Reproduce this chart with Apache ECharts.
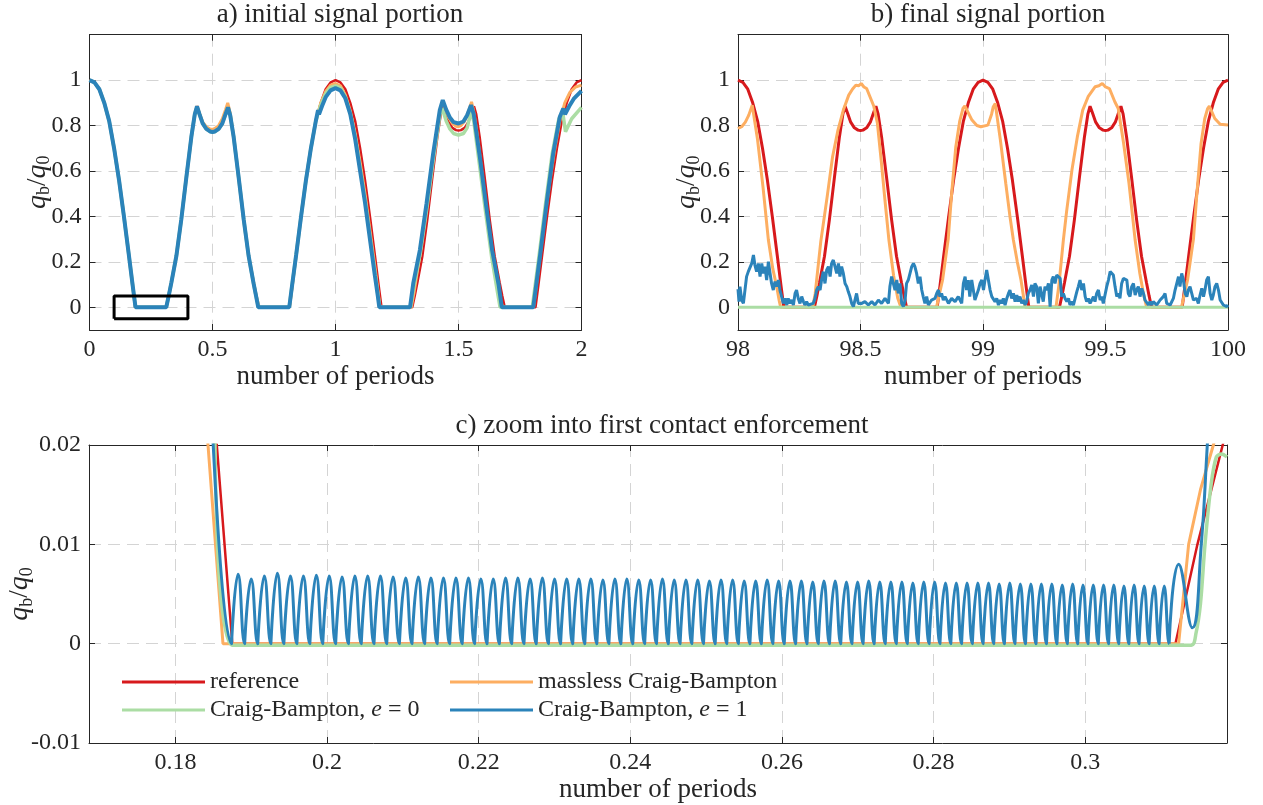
<!DOCTYPE html>
<html>
<head>
<meta charset="utf-8">
<script src="https://cdn.jsdelivr.net/npm/echarts@6.0.0/dist/echarts.min.js"></script>
<style>
html,body{margin:0;padding:0;background:#fff}
#main{width:1263px;height:805px}
</style>
</head>
<body>
<div id="main"></div>
<script>
// reference signal, one period (it repeats exactly)
var refX = [0,0.02,0.04,0.06,0.08,0.1,0.12,0.14,0.16,0.175,0.187,0.312,0.322,0.333,0.353,0.373,0.394,0.414,0.428,0.437,
  0.447,0.46,0.475,0.49,0.5,0.51,0.525,0.54,0.553,0.563,0.572,0.586,0.606,0.627,0.647,0.667,0.678,0.688,
  0.813,0.825,0.84,0.86,0.88,0.9,0.92,0.94,0.96,0.98];
var refY = [1,0.99,0.96,0.9,0.82,0.7,0.56,0.4,0.23,0.1,0,0,0.05,0.11,0.225,0.385,0.575,0.75,0.85,0.885,
  0.855,0.815,0.79,0.78,0.778,0.78,0.79,0.815,0.855,0.885,0.85,0.75,0.575,0.385,0.225,0.11,0.05,0,
  0,0.1,0.23,0.4,0.56,0.7,0.82,0.9,0.96,0.99];

// a) initial portion
var orangeA = [[0,1],[0.02,0.99],[0.04,0.96],[0.06,0.9],[0.08,0.82],[0.1,0.7],[0.12,0.56],[0.14,0.4],[0.16,0.23],[0.175,0.1],[0.186,0],[0.312,0],[0.322,0.05],[0.333,0.11],[0.353,0.225],[0.373,0.385],[0.394,0.575],[0.414,0.75],[0.428,0.85],[0.437,0.885],[0.447,0.855],[0.46,0.815],[0.475,0.795],[0.49,0.785],[0.5,0.783],[0.51,0.787],[0.525,0.8],[0.54,0.83],[0.553,0.87],[0.562,0.9],[0.572,0.855],[0.586,0.75],[0.606,0.575],[0.627,0.385],[0.647,0.225],[0.667,0.11],[0.678,0.05],[0.69,0],[0.813,0],[0.825,0.1],[0.84,0.23],[0.86,0.4],[0.88,0.56],[0.9,0.7],[0.92,0.82],[0.94,0.9],[0.96,0.95],[0.98,0.978],[1,0.985],[1.02,0.975],[1.04,0.935],[1.06,0.865],[1.08,0.765],[1.1,0.64],[1.12,0.5],[1.14,0.34],[1.16,0.18],[1.174,0.06],[1.181,0],[1.308,0],[1.32,0.07],[1.343,0.23],[1.37,0.44],[1.397,0.665],[1.424,0.86],[1.435,0.905],[1.447,0.87],[1.46,0.835],[1.475,0.81],[1.49,0.797],[1.5,0.795],[1.51,0.8],[1.525,0.82],[1.54,0.86],[1.553,0.904],[1.562,0.86],[1.575,0.77],[1.59,0.64],[1.61,0.46],[1.63,0.29],[1.65,0.14],[1.668,0.04],[1.68,0],[1.805,0],[1.817,0.1],[1.832,0.23],[1.852,0.4],[1.872,0.56],[1.892,0.7],[1.912,0.82],[1.932,0.9],[1.952,0.945],[1.976,0.97],[2,0.978]];
var greenA = [[0,1],[0.02,0.99],[0.04,0.96],[0.06,0.9],[0.08,0.82],[0.1,0.7],[0.12,0.56],[0.14,0.4],[0.16,0.23],[0.175,0.1],[0.187,0],[0.312,0],[0.322,0.05],[0.333,0.11],[0.353,0.225],[0.373,0.385],[0.394,0.575],[0.414,0.75],[0.428,0.85],[0.437,0.882],[0.447,0.85],[0.46,0.81],[0.475,0.785],[0.49,0.774],[0.5,0.772],[0.51,0.774],[0.525,0.785],[0.54,0.81],[0.553,0.85],[0.563,0.88],[0.572,0.845],[0.586,0.75],[0.606,0.575],[0.627,0.385],[0.647,0.225],[0.667,0.105],[0.678,0.045],[0.687,0],[0.812,0],[0.824,0.1],[0.84,0.23],[0.86,0.4],[0.88,0.56],[0.9,0.7],[0.92,0.82],[0.94,0.89],[0.96,0.94],[0.98,0.968],[1,0.975],[1.02,0.965],[1.04,0.925],[1.06,0.855],[1.08,0.75],[1.1,0.615],[1.12,0.475],[1.14,0.315],[1.16,0.155],[1.173,0.05],[1.18,0],[1.305,0],[1.318,0.09],[1.345,0.24],[1.372,0.44],[1.399,0.66],[1.425,0.85],[1.434,0.875],[1.45,0.82],[1.465,0.785],[1.48,0.765],[1.5,0.758],[1.52,0.765],[1.535,0.79],[1.551,0.86],[1.562,0.82],[1.585,0.63],[1.61,0.42],[1.635,0.22],[1.658,0.07],[1.669,0],[1.8,0],[1.827,0.223],[1.854,0.457],[1.881,0.677],[1.908,0.83],[1.924,0.855],[1.935,0.773],[1.96,0.83],[2,0.88]];
var blueA = [[0,1],[0.02,0.99],[0.04,0.96],[0.06,0.9],[0.08,0.82],[0.1,0.7],[0.12,0.56],[0.14,0.4],[0.16,0.23],[0.175,0.1],[0.187,0],[0.312,0],[0.322,0.05],[0.333,0.11],[0.353,0.225],[0.373,0.385],[0.394,0.575],[0.414,0.75],[0.428,0.85],[0.437,0.885],[0.447,0.85],[0.46,0.81],[0.475,0.785],[0.49,0.774],[0.5,0.772],[0.51,0.774],[0.525,0.785],[0.54,0.81],[0.553,0.85],[0.563,0.88],[0.572,0.845],[0.586,0.75],[0.606,0.575],[0.627,0.385],[0.647,0.225],[0.667,0.105],[0.678,0.045],[0.686,0],[0.812,0],[0.824,0.1],[0.84,0.23],[0.86,0.4],[0.88,0.56],[0.9,0.7],[0.92,0.82],[0.929,0.868],[0.933,0.85],[0.945,0.885],[0.96,0.925],[0.98,0.955],[1,0.965],[1.02,0.955],[1.04,0.92],[1.06,0.85],[1.08,0.74],[1.1,0.6],[1.12,0.46],[1.14,0.3],[1.16,0.14],[1.172,0.05],[1.178,0],[1.303,0],[1.316,0.105],[1.343,0.252],[1.37,0.457],[1.397,0.677],[1.424,0.868],[1.436,0.912],[1.45,0.87],[1.465,0.835],[1.48,0.815],[1.5,0.809],[1.52,0.818],[1.535,0.845],[1.551,0.89],[1.562,0.85],[1.587,0.66],[1.612,0.45],[1.637,0.25],[1.663,0.1],[1.676,0],[1.804,0],[1.831,0.223],[1.858,0.457],[1.885,0.677],[1.912,0.839],[1.926,0.875],[1.933,0.85],[1.95,0.885],[1.97,0.92],[2,0.953]];
var zoomBox = [[0.1,-0.05],[0.4,-0.05],[0.4,0.05],[0.1,0.05],[0.1,-0.05]];

// b) final portion
var orangeB = [[98,0.787],[98.015,0.795],[98.03,0.815],[98.044,0.846],[98.058,0.89],[98.08,0.736],[98.102,0.53],[98.124,0.296],[98.142,0.17],[98.158,0.09],[98.168,0.03],[98.174,0],[98.305,0],[98.315,0.06],[98.338,0.29],[98.364,0.487],[98.386,0.663],[98.408,0.78],[98.43,0.868],[98.452,0.934],[98.467,0.96],[98.481,0.978],[98.492,0.975],[98.503,0.985],[98.514,0.97],[98.525,0.963],[98.547,0.905],[98.554,0.886],[98.569,0.81],[98.585,0.64],[98.6,0.47],[98.616,0.296],[98.635,0.14],[98.652,0.04],[98.665,0],[98.81,0],[98.835,0.12],[98.858,0.3],[98.872,0.5],[98.889,0.707],[98.905,0.82],[98.918,0.875],[98.926,0.886],[98.955,0.824],[98.975,0.8],[98.991,0.795],[99.02,0.802],[99.035,0.85],[99.042,0.883],[99.05,0.897],[99.071,0.736],[99.093,0.545],[99.11,0.4],[99.124,0.296],[99.14,0.2],[99.155,0.12],[99.165,0.05],[99.172,0],[99.298,0],[99.31,0.1],[99.328,0.296],[99.341,0.42],[99.363,0.604],[99.385,0.75],[99.407,0.868],[99.429,0.927],[99.458,0.971],[99.473,0.975],[99.487,0.985],[99.5,0.97],[99.516,0.963],[99.538,0.905],[99.552,0.875],[99.574,0.721],[99.596,0.545],[99.621,0.296],[99.64,0.15],[99.655,0.06],[99.668,0],[99.81,0],[99.835,0.12],[99.859,0.3],[99.873,0.5],[99.89,0.72],[99.905,0.83],[99.917,0.875],[99.924,0.886],[99.946,0.831],[99.968,0.806],[100,0.802]];
var greenB = [[98,0],[100,0]];
var blueBX = [98,98.004,98.008,98.015,98.022,98.035,98.042,98.049,98.056,98.063,98.069,98.076,98.083,98.09,98.097,98.103,98.11,98.117,98.124,98.131,
  98.137,98.144,98.151,98.158,98.165,98.171,98.178,98.185,98.192,98.199,98.205,98.212,98.219,98.226,98.233,98.239,98.246,98.253,98.26,98.267,
  98.273,98.28,98.287,98.294,98.307,98.314,98.321,98.328,98.335,98.341,98.348,98.355,98.362,98.369,98.376,98.382,98.389,98.396,98.403,98.41,
  98.416,98.423,98.43,98.437,98.444,98.45,98.457,98.464,98.471,98.484,98.491,98.505,98.518,98.532,98.546,98.559,98.573,98.586,98.6,98.614,
  98.62,98.627,98.634,98.641,98.648,98.654,98.661,98.668,98.675,98.682,98.688,98.695,98.702,98.709,98.716,98.722,98.729,98.736,98.743,98.75,
  98.756,98.763,98.77,98.777,98.79,98.804,98.811,98.818,98.824,98.831,98.838,98.845,98.859,98.872,98.886,98.899,98.913,98.92,98.927,98.933,
  98.94,98.946,98.954,98.967,98.981,98.988,98.995,99.002,99.008,99.015,99.022,99.029,99.036,99.042,99.049,99.056,99.063,99.07,99.076,99.083,
  99.09,99.097,99.104,99.11,99.117,99.124,99.131,99.138,99.144,99.151,99.158,99.165,99.172,99.178,99.185,99.192,99.199,99.206,99.212,99.219,
  99.226,99.233,99.24,99.246,99.253,99.26,99.267,99.274,99.281,99.287,99.294,99.301,99.308,99.315,99.321,99.328,99.335,99.342,99.349,99.355,
  99.362,99.369,99.376,99.383,99.389,99.396,99.403,99.41,99.417,99.423,99.43,99.437,99.444,99.451,99.457,99.464,99.471,99.478,99.485,99.491,
  99.498,99.505,99.512,99.519,99.525,99.532,99.539,99.546,99.553,99.559,99.566,99.573,99.58,99.587,99.593,99.6,99.607,99.614,99.621,99.627,
  99.634,99.641,99.648,99.655,99.661,99.668,99.675,99.682,99.689,99.695,99.709,99.723,99.736,99.743,99.75,99.764,99.777,99.784,99.791,99.798,
  99.804,99.811,99.818,99.825,99.832,99.838,99.845,99.852,99.859,99.866,99.872,99.879,99.886,99.893,99.9,99.906,99.913,99.92,99.927,99.934,
  99.94,99.947,99.954,99.961,99.968,99.974,99.981,99.995,100];
var blueBY = [0.08,0.025,0.091,0.032,0.017,0.135,0.157,0.149,0.193,0.23,0.186,0.157,0.193,0.135,0.193,0.149,0.179,0.12,0.201,0.149,
  0.105,0.076,0.113,0.091,0.12,0.076,0.047,0.017,0.039,0.01,0.039,0.017,0.032,0.01,0.061,0.076,0.039,0.017,0.047,0.025,
  0.01,0.025,0.01,0.003,0.017,0.039,0.076,0.091,0.076,0.12,0.157,0.105,0.164,0.179,0.135,0.193,0.208,0.179,0.149,0.193,
  0.135,0.179,0.149,0.105,0.091,0.069,0.047,0.017,0.003,0.061,0.017,0.017,0.025,0.01,0.025,0.01,0.032,0.017,0.039,0.017,
  0.091,0.135,0.105,0.076,0.12,0.061,0.105,0.017,0.003,0.032,0.105,0.12,0.149,0.179,0.193,0.179,0.149,0.105,0.135,0.076,
  0.047,0.017,0.047,0.01,0.032,0.039,0.061,0.076,0.047,0.061,0.032,0.047,0.017,0.039,0.025,0.047,0.017,0.105,0.135,0.076,
  0.12,0.047,0.12,0.032,0.076,0.105,0.12,0.076,0.12,0.164,0.171,0.076,0.047,0.054,0.025,0.039,0.01,0.032,0.017,0.039,
  0.01,0.039,0.061,0.076,0.039,0.061,0.025,0.054,0.025,0.047,0.017,0.032,0.01,0.025,0.061,0.076,0.098,0.047,0.105,0.091,
  0.017,0.091,0.098,0.025,0.091,0.076,0.105,0.003,0.12,0.135,0.105,0.142,0.149,0.127,0.047,0.061,0.039,0.025,0.039,0.01,
  0.025,0.01,0.039,0.069,0.091,0.12,0.076,0.105,0.047,0.025,0.039,0.017,0.032,0.047,0.025,0.061,0.076,0.032,0.047,0.017,
  0.054,0.091,0.12,0.157,0.164,0.142,0.091,0.047,0.061,0.039,0.105,0.127,0.135,0.12,0.061,0.047,0.091,0.105,0.054,0.076,
  0.091,0.047,0.083,0.061,0.032,0.039,0.01,0.025,0.01,0.025,0.01,0.032,0.047,0.061,0.017,0.01,0.039,0.076,0.105,0.135,
  0.091,0.149,0.12,0.061,0.047,0.076,0.091,0.061,0.032,0.025,0.039,0.017,0.054,0.083,0.047,0.076,0.12,0.135,0.061,0.032,
  0.054,0.091,0.105,0.076,0.032,0.025,0.01,0.003,0.01];

// c) zoom into first contact
var redC = [[0.1852,0.0225],[0.1875,0],[0.3119,0],[0.3148,0.01],[0.3183,0.0205]];
var orangeC = [[0.184,0.023],[0.18627,0],[0.31232,0],[0.31364,0.01],[0.3152,0.0155],[0.3169,0.02],[0.3172,0.0208]];
var greenC = [[0.1852,0.0225],[0.1875,-0.00015],[0.314,-0.00015],[0.3146,0.001],[0.3152,0.004],[0.3158,0.01],[0.3166,0.016],[0.3173,0.0188],[0.318,0.0191],[0.3187,0.0188]];
var cBlueLead = [[0.1844,0.03]];
var cBlueCusps = [0.1874,0.18913,0.19086,0.19259,0.1943,0.19602,0.19773,0.19943,0.20113,0.20282,0.20451,0.20619,0.20787,0.20954,0.2112,0.21287,
  0.21452,0.21617,0.21782,0.21946,0.2211,0.22273,0.22435,0.22597,0.22759,0.2292,0.2308,0.2324,0.23399,0.23558,0.23717,0.23875,0.24032,0.24189,
  0.24345,0.24501,0.24656,0.24811,0.24965,0.25119,0.25272,0.25425,0.25577,0.25728,0.2588,0.2603,0.2618,0.2633,0.26479,0.26627,0.26775,0.26923,
  0.2707,0.27216,0.27362,0.27508,0.27653,0.27797,0.27941,0.28084,0.28227,0.28369,0.28511,0.28653,0.28793,0.28934,0.29073,0.29212,0.29351,0.29489,
  0.29627,0.29764,0.29901,0.30037,0.30172,0.30308,0.30442,0.30576,0.3071,0.30843,0.30975,0.31107];
var cBluePeaks = [0.0070,0.0065,0.0068,0.0071,0.0068,0.0068,0.0069,0.0068,0.0067,0.0068,0.0068,0.0068,0.0067,0.0066,0.0067,0.0066,0.0066,0.0066,0.0066,0.0065,0.0065,
  0.0066,0.0066,0.0065,0.0066,0.0065,0.0065,0.0065,0.0065,0.0064,0.0065,0.0065,0.0064,0.0064,0.0065,0.0064,0.0064,0.0064,0.0063,0.0064,0.0064,
  0.0063,0.0063,0.0064,0.0063,0.0063,0.0063,0.0062,0.0063,0.0063,0.0062,0.0062,0.0063,0.0062,0.0062,0.0062,0.0061,0.0062,0.0062,0.0061,0.0061,
  0.0061,0.0061,0.0061,0.0060,0.0061,0.0060,0.0060,0.0060,0.0060,0.0059,0.0060,0.0059,0.0059,0.0059,0.0059,0.0058,0.0059,0.0058,0.0058,0.0058,0.0058];
var cBlueTail = [[0.31232,0.008],[0.31412,0.0016],[0.31531,0.01],[0.3161,0.02],[0.3165,0.025]];

var RED = '#d7191c', ORANGE = '#fdae61', GREEN = '#abdda4', BLUE = '#2b83ba';
var INK = '#262626', GRIDC = '#d4d4d4';
var FONT = 'Liberation Serif';
var NAMES = ['reference', 'massless Craig-Bampton', 'Craig-Bampton, e = 0', 'Craig-Bampton, e = 1'];

function periodic(offsets, endX) {
  var out = [];
  offsets.forEach(function (o) {
    for (var i = 0; i < refX.length; i++) out.push([o + refX[i], refY[i]]);
  });
  out.push([endX, 1]);
  return out;
}
var redA = periodic([0, 1], 2);
var redB = periodic([98, 99], 100);
var blueB = blueBX.map(function (x, i) { return [x, blueBY[i]]; });

// blue bouncing: cusps at contacts, arcs between them (smoothed by echarts)
var blueC = cBlueLead.slice();
for (var i = 0; i < cBluePeaks.length; i++) {
  var a = cBlueCusps[i], b = cBlueCusps[i + 1];
  blueC.push([a, 0], [a + 0.00001, 0], [(a + b) / 2, cBluePeaks[i]]);
}
var lastC = cBlueCusps[cBlueCusps.length - 1];
blueC.push([lastC, 0], [lastC + 0.00001, 0]);
blueC = blueC.concat(cBlueTail);

function fmt(v) { return String(+(+v).toFixed(4)); }

function axesFor(gi, xmin, xmax, xticks, ymin, ymax, yticks, yGap) {
  var tickStyle = {color: INK, width: 1};
  var lineStyle = {show: true, onZero: false, lineStyle: {color: INK, width: 1}};
  var lab = {color: INK, fontFamily: FONT, fontSize: 24, margin: 8, formatter: fmt};
  var split = {show: true, lineStyle: {color: GRIDC, width: 1, type: [12, 7]}};
  var xs = [
    {type: 'value', gridIndex: gi, min: xmin, max: xmax, position: 'bottom', scale: true,
      axisLine: lineStyle, axisTick: {inside: true, length: 6, customValues: xticks, lineStyle: tickStyle},
      axisLabel: Object.assign({customValues: xticks}, lab), splitLine: split,
      name: 'number of periods', nameLocation: 'middle', nameGap: 33, nameMoveOverlap: false,
      nameTextStyle: {color: INK, fontFamily: FONT, fontSize: 27}},
    {type: 'value', gridIndex: gi, min: xmin, max: xmax, position: 'top', scale: true,
      axisLine: lineStyle, axisTick: {inside: true, length: 6, customValues: xticks, lineStyle: tickStyle},
      axisLabel: {show: false}, splitLine: {show: false}}
  ];
  var ys = [
    {type: 'value', gridIndex: gi, min: ymin, max: ymax, position: 'left',
      axisLine: lineStyle, axisTick: {inside: true, length: 6, customValues: yticks, lineStyle: tickStyle},
      axisLabel: Object.assign({customValues: yticks}, lab), splitLine: split,
      name: '{q|q}{s|b}{n|/}{q|q}{s|0}', nameLocation: 'middle', nameRotate: 90, nameGap: yGap,
      nameMoveOverlap: false,
      nameTextStyle: {color: INK, rich: {
        q: {fontFamily: FONT, fontStyle: 'italic', fontSize: 28, lineHeight: 32, color: INK},
        s: {fontFamily: FONT, fontSize: 18, lineHeight: 32, verticalAlign: 'bottom', color: INK},
        n: {fontFamily: FONT, fontSize: 27, lineHeight: 32, color: INK}
      }}},
    {type: 'value', gridIndex: gi, min: ymin, max: ymax, position: 'right',
      axisLine: lineStyle, axisTick: {inside: true, length: 6, customValues: yticks, lineStyle: tickStyle},
      axisLabel: {show: false}, splitLine: {show: false}}
  ];
  return {x: xs, y: ys};
}

var axA = axesFor(0, 0, 2, [0, 0.5, 1, 1.5, 2], -0.1, 1.2, [0, 0.2, 0.4, 0.6, 0.8, 1], 36);
var axB = axesFor(1, 98, 100, [98, 98.5, 99, 99.5, 100], -0.1, 1.2, [0, 0.2, 0.4, 0.6, 0.8, 1], 35);
var axC = axesFor(2, 0.1686, 0.3187, [0.18, 0.2, 0.22, 0.24, 0.26, 0.28, 0.3], -0.01, 0.02, [-0.01, 0, 0.01, 0.02], 53);

function line(name, data, color, width, gi, smooth) {
  return {
    type: 'line', name: name, data: data, xAxisIndex: gi * 2, yAxisIndex: gi * 2,
    showSymbol: false, symbol: 'none', smooth: smooth || false, animation: false, silent: true,
    lineStyle: {color: color, width: width}, itemStyle: {color: color}
  };
}

var series = [
  line(NAMES[0], redA, RED, 2.5, 0), line(NAMES[1], orangeA, ORANGE, 3, 0),
  line(NAMES[2], greenA, GREEN, 3.5, 0), line(NAMES[3], blueA, BLUE, 4, 0),
  line('box', zoomBox, '#000', 3, 0),
  line(NAMES[0], redB, RED, 3, 1), line(NAMES[1], orangeB, ORANGE, 3, 1),
  line(NAMES[2], greenB, GREEN, 3, 1), line(NAMES[3], blueB, BLUE, 3, 1),
  line(NAMES[0], redC, RED, 2.5, 2), line(NAMES[1], orangeC, ORANGE, 3, 2),
  line(NAMES[2], greenC, GREEN, 3.5, 2, 0.3), line(NAMES[3], blueC, BLUE, 3, 2, 0.5)
];

var legendText = {
  color: INK, fontFamily: FONT, fontSize: 24,
  rich: {i: {fontFamily: FONT, fontSize: 24, fontStyle: 'italic', color: INK}}
};
function legendFmt(n) { return n.replace(', e = ', ', {i|e} = '); }

var option = {
  backgroundColor: '#fff',
  animation: false,
  title: [
    {text: 'a) initial signal portion', left: 335, top: -4, textAlign: 'center',
      textStyle: {color: INK, fontFamily: FONT, fontSize: 27, fontWeight: 'normal'}},
    {text: 'b) final signal portion', left: 983, top: -4, textAlign: 'center',
      textStyle: {color: INK, fontFamily: FONT, fontSize: 27, fontWeight: 'normal'}},
    {text: 'c) zoom into first contact enforcement', left: 657, top: 407, textAlign: 'center',
      textStyle: {color: INK, fontFamily: FONT, fontSize: 27, fontWeight: 'normal'}}
  ],
  legend: [
    {data: [NAMES[0], NAMES[2]], left: 122, top: 670, orient: 'vertical', padding: 0,
      icon: 'rect', itemWidth: 83, itemHeight: 3, itemGap: 4, selectedMode: false,
      textStyle: legendText, formatter: legendFmt},
    {data: [NAMES[1], NAMES[3]], left: 450, top: 670, orient: 'vertical', padding: 0,
      icon: 'rect', itemWidth: 83, itemHeight: 3, itemGap: 4, selectedMode: false,
      textStyle: legendText, formatter: legendFmt}
  ],
  grid: [
    {left: 89.5, top: 34.7, width: 492, height: 295.3, containLabel: false, outerBoundsMode: 'none'},
    {left: 738, top: 34.7, width: 490, height: 295.3, containLabel: false, outerBoundsMode: 'none'},
    {left: 89, top: 445, width: 1138, height: 298, containLabel: false, outerBoundsMode: 'none'}
  ],
  xAxis: axA.x.concat(axB.x, axC.x),
  yAxis: axA.y.concat(axB.y, axC.y),
  series: series
};

var myChart = echarts.init(document.getElementById('main'), null, {renderer: 'canvas'});
myChart.setOption(option);
</script>
</body>
</html>
